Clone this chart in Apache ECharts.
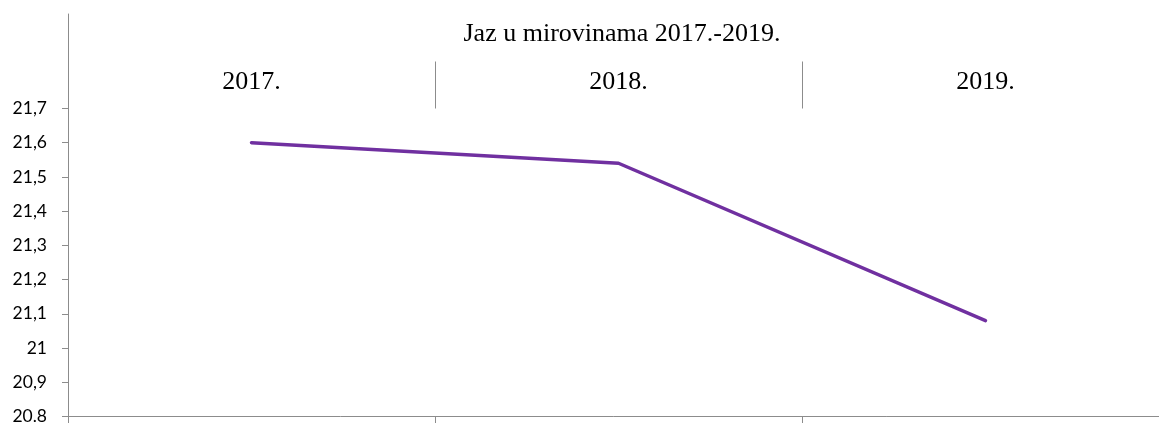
<!DOCTYPE html>
<html>
<head>
<meta charset="utf-8">
<script src="https://cdn.jsdelivr.net/npm/echarts@6/dist/echarts.min.js"></script>
<style>
html,body{margin:0;padding:0;background:#fff;}
#chart{width:1159px;height:423px;}
</style>
</head>
<body>
<div id="chart"></div>
<script>
var titleText = 'Jaz u mirovinama 2017.-2019.';
var categories = ['2017.', '2018.', '2019.'];
var gapValues = [21.6, 21.54, 21.08];
var yTickLabels = ['20.8', '20,9', '21', '21,1', '21,2', '21,3', '21,4', '21,5', '21,6', '21,7'];
var yMin = 20.8, yMax = 21.7, yStep = 0.1;

var axisGray = '#8c8c8c';
var chart = echarts.init(document.getElementById('chart'), null, {renderer: 'canvas'});
chart.setOption({
  animation: false,
  backgroundColor: '#ffffff',
  title: {
    text: titleText,
    left: 617, textAlign: 'center', top: 16,
    textStyle: {fontFamily: 'Liberation Serif', fontSize: 26, fontWeight: 'normal', color: '#000'}
  },
  grid: [
    {left: 68, top: 108.5, width: 1101, bottom: 6.5, outerBoundsMode: 'none', containLabel: false},
    {left: 68, top: 14, width: 1101, height: 94.5, outerBoundsMode: 'none', containLabel: false}
  ],
  xAxis: [
    {
      type: 'category', gridIndex: 0, position: 'bottom', data: categories, boundaryGap: true,
      axisLine: {show: true, lineStyle: {color: axisGray, width: 1}},
      axisTick: {show: true, length: 6.5, lineStyle: {color: axisGray}},
      axisLabel: {show: false}
    },
    {
      type: 'category', gridIndex: 0, position: 'top', data: categories, boundaryGap: true,
      axisLine: {show: false},
      axisTick: {show: true, length: 47, lineStyle: {color: axisGray}},
      axisLabel: {show: true, margin: 13, fontFamily: 'Liberation Serif', fontSize: 26, color: '#000'}
    },
    {
      type: 'category', gridIndex: 1, data: categories, show: false
    }
  ],
  yAxis: [
    {
      type: 'value', gridIndex: 0, min: yMin, max: yMax, interval: yStep,
      axisLine: {show: true, lineStyle: {color: axisGray, width: 1}},
      axisTick: {show: true, length: 6, lineStyle: {color: axisGray}},
      splitLine: {show: false},
      axisLabel: {
        margin: 21, fontFamily: 'Lato', fontSize: 17.5, color: '#000',
        formatter: function (v) {
          var i = Math.round((v - yMin) / yStep);
          return yTickLabels[i] !== undefined ? yTickLabels[i] : '';
        }
      }
    },
    {
      type: 'value', gridIndex: 1, min: 0, max: 1,
      axisLine: {show: true, lineStyle: {color: axisGray, width: 1}},
      axisTick: {show: false}, axisLabel: {show: false}, splitLine: {show: false}
    }
  ],
  series: [
    {
      type: 'line', xAxisIndex: 0, yAxisIndex: 0, data: gapValues,
      symbol: 'none', smooth: false,
      lineStyle: {color: '#7030A0', width: 3.5, cap: 'round', join: 'round'}
    }
  ]
});
</script>
</body>
</html>
